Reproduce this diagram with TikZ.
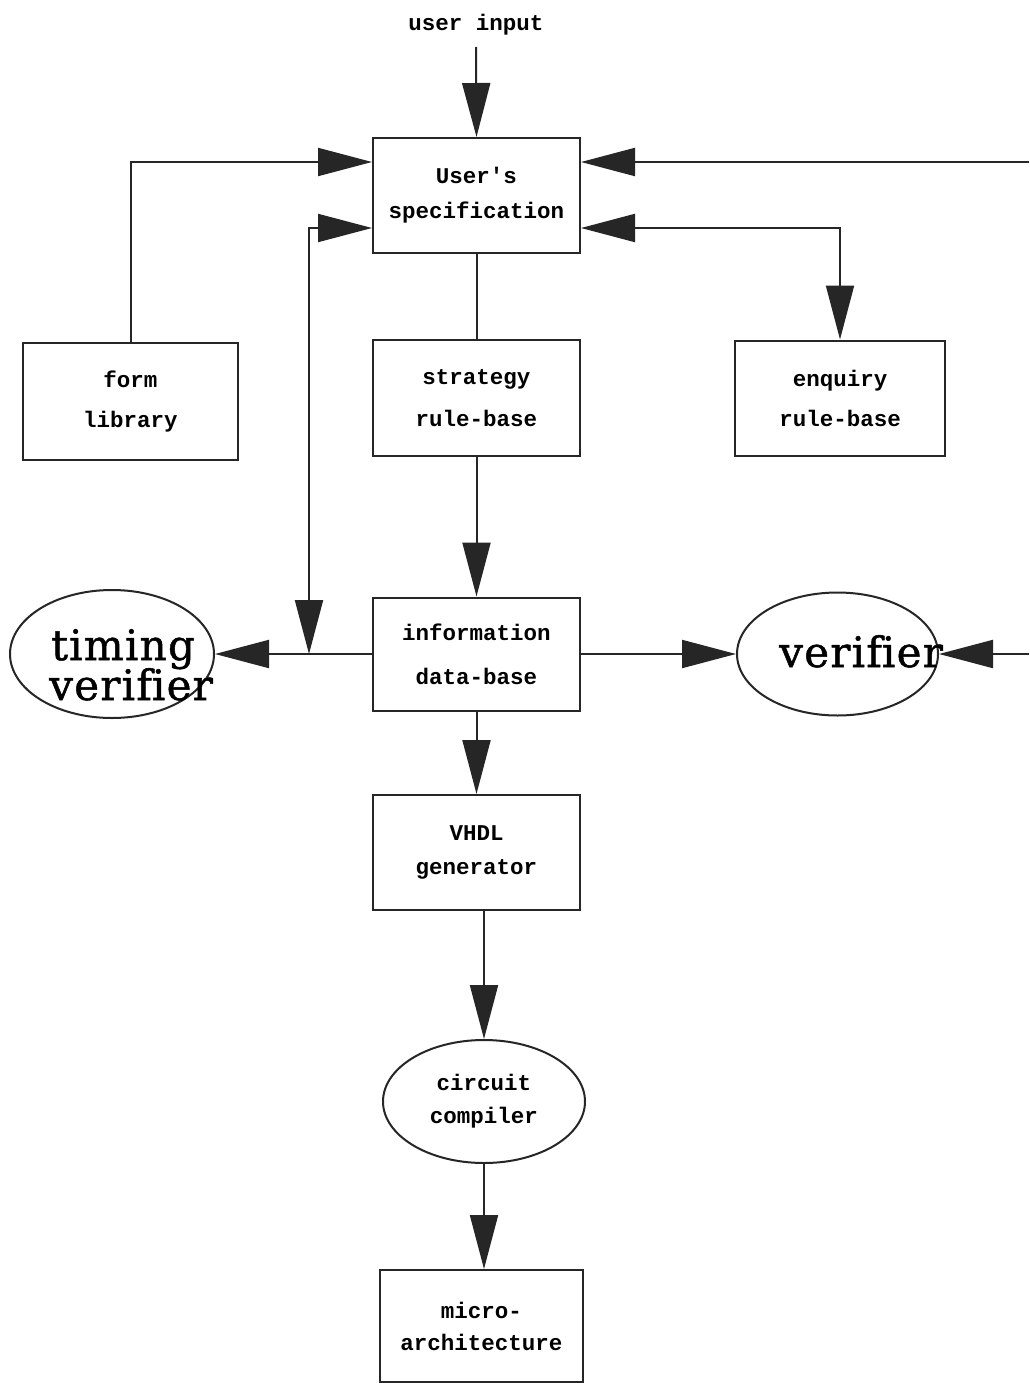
\documentclass[tikz,border=0pt]{standalone}
\usepackage{fontspec}
\newfontfamily\monofont{Liberation Mono}
\newfontfamily\bigserif{DejaVu Serif}[Ligatures=NoCommon, FakeBold=1.2, LetterSpace=3]
\usetikzlibrary{arrows.meta,shapes.geometric}

\newcommand\boxtext{\monofont\bfseries\fontsize{22.5}{40}\selectfont}
\newcommand\ovaltext{\bigserif\fontsize{42}{40}\selectfont}

\begin{document}
\begin{tikzpicture}[x=1pt,y=-1pt,
  ink/.style={draw=black!85, line width=2pt},
  box/.style={ink, rectangle, inner sep=0pt, align=center, font=\boxtext},
  oval/.style={ink, ellipse, inner sep=0pt, align=center},
  tip/.style={ink, -{Triangle[length=54pt,width=28pt]}},
  twotips/.style={ink, {Triangle[length=54pt,width=28pt]}-{Triangle[length=54pt,width=28pt]}},
  plain/.style={ink},
]
% page
\fill[white] (0,0) rectangle (1029,1383);
\useasboundingbox (0,0) rectangle (1029,1383);

% helper rows / columns for routed connectors
\coordinate (rowA) at (0,162);
\coordinate (rowB) at (0,228);
\coordinate (rowC) at (0,654);
\coordinate (colL) at (309,0);
\coordinate (edgeTop) at (1029,162);
\coordinate (edgeMid) at (1029,654);
\coordinate (inStart) at (476,47);

% blocks
\node[font=\boxtext, anchor=base] (uin) at (476,31) {user input};
\node[box, minimum width=207pt, minimum height=115pt] (spec) at (476.5,195.5) {User's\\[-5pt]specification};
\node[box, minimum width=215pt, minimum height=117pt] (form) at (130.5,401.5) {form\\library};
\node[box, minimum width=207pt, minimum height=116pt] (strat) at (476.5,398) {strategy\\[2pt]rule-base};
\node[box, minimum width=210pt, minimum height=115pt] (enq) at (840,398) {enquiry\\rule-base};
\node[box, minimum width=207pt, minimum height=113pt] (info) at (476.5,654) {information\\[4pt]data-base};
\node[box, minimum width=207pt, minimum height=115pt] (vhdl) at (476.5,852.5) {VHDL\\[-6pt]generator};
\node[oval, minimum width=202pt, minimum height=123pt, font=\boxtext] (cc) at (484,1101.5) {circuit\\[-7pt]compiler};
\node[box, minimum width=203pt, minimum height=112pt] (micro) at (481.5,1326) {micro-\\[-8pt]architecture};

% verifiers (their lettering spills over the outline)
\node[oval, minimum width=204pt, minimum height=128pt] (tv) at (112,654) {};
\node[font=\ovaltext, anchor=base] (tvA) at (123,660) {timing};
\node[font=\ovaltext, anchor=base] (tvB) at (131,700) {verif\kern0pt ier};
\node[oval, minimum width=201pt, minimum height=123pt] (ver) at (837.5,654) {};
\node[font=\ovaltext, anchor=base] (verA) at (861,667) {verif\kern0pt ier};

% connectors
\draw[tip] (inStart) -- (spec.north);
\draw[tip] (form.north) |- (spec.west |- rowA);
\draw[tip] (edgeTop) -- (spec.east |- rowA);
\draw[twotips] (spec.east |- rowB) -| (enq.north);
\draw[twotips] (colL |- rowC) |- (spec.west |- rowB);
\draw[plain] (spec.south) -- (strat.north);
\draw[tip] (strat.south) -- (info.north);
\draw[tip] (info.west) -- (tv.east);
\draw[tip] (info.east) -- (ver.west);
\draw[tip] (edgeMid) -- (ver.east);
\draw[tip] (info.south) -- (vhdl.north);
\draw[tip] (vhdl.south -| cc.north) -- (cc.north);
\draw[tip] (cc.south) -- (cc.south |- micro.north);
\end{tikzpicture}
\end{document}
